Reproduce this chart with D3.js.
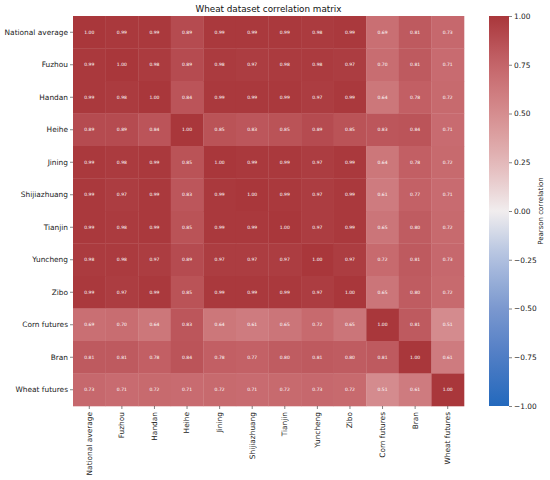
<!DOCTYPE html>
<html>
<head>
<meta charset="utf-8">
<script src="https://cdn.jsdelivr.net/npm/d3@7"></script>
<style>
  body { margin: 0; background: #fff; }
  svg { font-family: "DejaVu Sans", sans-serif; }
</style>
</head>
<body>
<svg id="chart" width="550" height="480"></svg>
<script>
const labels = ["National average", "Fuzhou", "Handan", "Heihe", "Jining", "Shijiazhuang",
  "Tianjin", "Yuncheng", "Zibo", "Corn futures", "Bran", "Wheat futures"];

const rowNationalAverage = [1.00, 0.99, 0.99, 0.89, 0.99, 0.99, 0.99, 0.98, 0.99, 0.69, 0.81, 0.73];
const rowFuzhou          = [0.99, 1.00, 0.98, 0.89, 0.98, 0.97, 0.98, 0.98, 0.97, 0.70, 0.81, 0.71];
const rowHandan          = [0.99, 0.98, 1.00, 0.84, 0.99, 0.99, 0.99, 0.97, 0.99, 0.64, 0.78, 0.72];
const rowHeihe           = [0.89, 0.89, 0.84, 1.00, 0.85, 0.83, 0.85, 0.89, 0.85, 0.83, 0.84, 0.71];
const rowJining          = [0.99, 0.98, 0.99, 0.85, 1.00, 0.99, 0.99, 0.97, 0.99, 0.64, 0.78, 0.72];
const rowShijiazhuang    = [0.99, 0.97, 0.99, 0.83, 0.99, 1.00, 0.99, 0.97, 0.99, 0.61, 0.77, 0.71];
const rowTianjin         = [0.99, 0.98, 0.99, 0.85, 0.99, 0.99, 1.00, 0.97, 0.99, 0.65, 0.80, 0.72];
const rowYuncheng        = [0.98, 0.98, 0.97, 0.89, 0.97, 0.97, 0.97, 1.00, 0.97, 0.72, 0.81, 0.73];
const rowZibo            = [0.99, 0.97, 0.99, 0.85, 0.99, 0.99, 0.99, 0.97, 1.00, 0.65, 0.80, 0.72];
const rowCornFutures     = [0.69, 0.70, 0.64, 0.83, 0.64, 0.61, 0.65, 0.72, 0.65, 1.00, 0.81, 0.51];
const rowBran            = [0.81, 0.81, 0.78, 0.84, 0.78, 0.77, 0.80, 0.81, 0.80, 0.81, 1.00, 0.61];
const rowWheatFutures    = [0.73, 0.71, 0.72, 0.71, 0.72, 0.71, 0.72, 0.73, 0.72, 0.51, 0.61, 1.00];

const matrix = [rowNationalAverage, rowFuzhou, rowHandan, rowHeihe, rowJining, rowShijiazhuang,
  rowTianjin, rowYuncheng, rowZibo, rowCornFutures, rowBran, rowWheatFutures];

const colorbarTicks = [1.00, 0.75, 0.50, 0.25, 0.00, -0.25, -0.50, -0.75, -1.00];
const title = "Wheat dataset correlation matrix";
const colorbarLabel = "Pearson correlation";

(function () {
// vlag-like diverging colormap
const vlagStops = ["#2369bd", "#4f7dc5", "#7b98cf", "#aebfdf", "#f1edee", "#e3b7b8", "#d58d8f", "#c5656a", "#a9373b"];
const color = d3.scaleLinear()
  .domain(d3.range(vlagStops.length).map(i => -1 + 2 * i / (vlagStops.length - 1)))
  .range(vlagStops)
  .interpolate(d3.interpolateRgb)
  .clamp(true);

const svg = d3.select("#chart");
const mLeft = 73, mTop = 16, mRight = 464, mBottom = 406;

const x = d3.scaleBand().domain(labels).range([mLeft, mRight]);
const y = d3.scaleBand().domain(labels).range([mTop, mBottom]);

const cells = [];
matrix.forEach((row, i) => row.forEach((v, j) => cells.push({ r: labels[i], c: labels[j], v })));

svg.append("g").selectAll("rect").data(cells).join("rect")
  .attr("x", d => x(d.c))
  .attr("y", d => y(d.r))
  .attr("width", x.bandwidth() + 0.3)
  .attr("height", y.bandwidth() + 0.3)
  .attr("fill", d => color(d.v));

svg.append("g").selectAll("text").data(cells).join("text")
  .attr("x", d => x(d.c) + x.bandwidth() / 2)
  .attr("y", d => y(d.r) + y.bandwidth() / 2)
  .attr("text-anchor", "middle")
  .attr("dominant-baseline", "central")
  .attr("font-size", 4.5)
  .attr("fill", "#fff")
  .text(d => d.v.toFixed(2));

// axes
const yAxis = svg.append("g")
  .attr("transform", `translate(${mLeft},0)`)
  .call(d3.axisLeft(y).tickSize(3).tickPadding(2));
yAxis.select(".domain").remove();
yAxis.selectAll("text").attr("font-size", 7.4).attr("fill", "#222").attr("font-family", "DejaVu Sans");
yAxis.selectAll("line").attr("stroke", "#333").attr("stroke-width", 0.6);

const xAxis = svg.append("g")
  .attr("transform", `translate(0,${mBottom})`)
  .call(d3.axisBottom(x).tickSize(3).tickPadding(2));
xAxis.select(".domain").remove();
xAxis.selectAll("line").attr("stroke", "#333").attr("stroke-width", 0.6);
xAxis.selectAll("text")
  .attr("font-size", 7.4).attr("fill", "#222").attr("font-family", "DejaVu Sans")
  .attr("transform", "rotate(-90)")
  .attr("text-anchor", "end")
  .attr("dy", "0.32em")
  .attr("x", -6)
  .attr("y", 0);

// title
svg.append("text")
  .attr("x", (mLeft + mRight) / 2)
  .attr("y", 12)
  .attr("text-anchor", "middle")
  .attr("font-size", 8.8)
  .attr("fill", "#111")
  .text(title);

// colorbar
const cbX = 489, cbW = 20;
const cbScale = d3.scaleLinear().domain([-1, 1]).range([mBottom, mTop]);
const defs = svg.append("defs");
const grad = defs.append("linearGradient").attr("id", "cbgrad")
  .attr("x1", 0).attr("y1", 1).attr("x2", 0).attr("y2", 0);
d3.range(0, 1.0001, 0.05).forEach(t => {
  grad.append("stop").attr("offset", t).attr("stop-color", color(-1 + 2 * t));
});
svg.append("rect")
  .attr("x", cbX).attr("y", mTop)
  .attr("width", cbW).attr("height", mBottom - mTop)
  .attr("fill", "url(#cbgrad)");

const cbAxis = svg.append("g")
  .attr("transform", `translate(${cbX + cbW},0)`)
  .call(d3.axisRight(cbScale).tickValues(colorbarTicks).tickFormat(d3.format(".2f")).tickSize(3).tickPadding(2));
cbAxis.select(".domain").remove();
cbAxis.selectAll("line").attr("stroke", "#333").attr("stroke-width", 0.6);
cbAxis.selectAll("text").attr("font-size", 7.4).attr("fill", "#222").attr("font-family", "DejaVu Sans")
  .text(d => d3.format(".2f")(d).replace("-", "\u2212"));

svg.append("text")
  .attr("transform", `translate(543,${(mTop + mBottom) / 2}) rotate(-90)`)
  .attr("text-anchor", "middle")
  .attr("font-size", 7)
  .attr("fill", "#222")
  .text(colorbarLabel);
})();
</script>
</body>
</html>
